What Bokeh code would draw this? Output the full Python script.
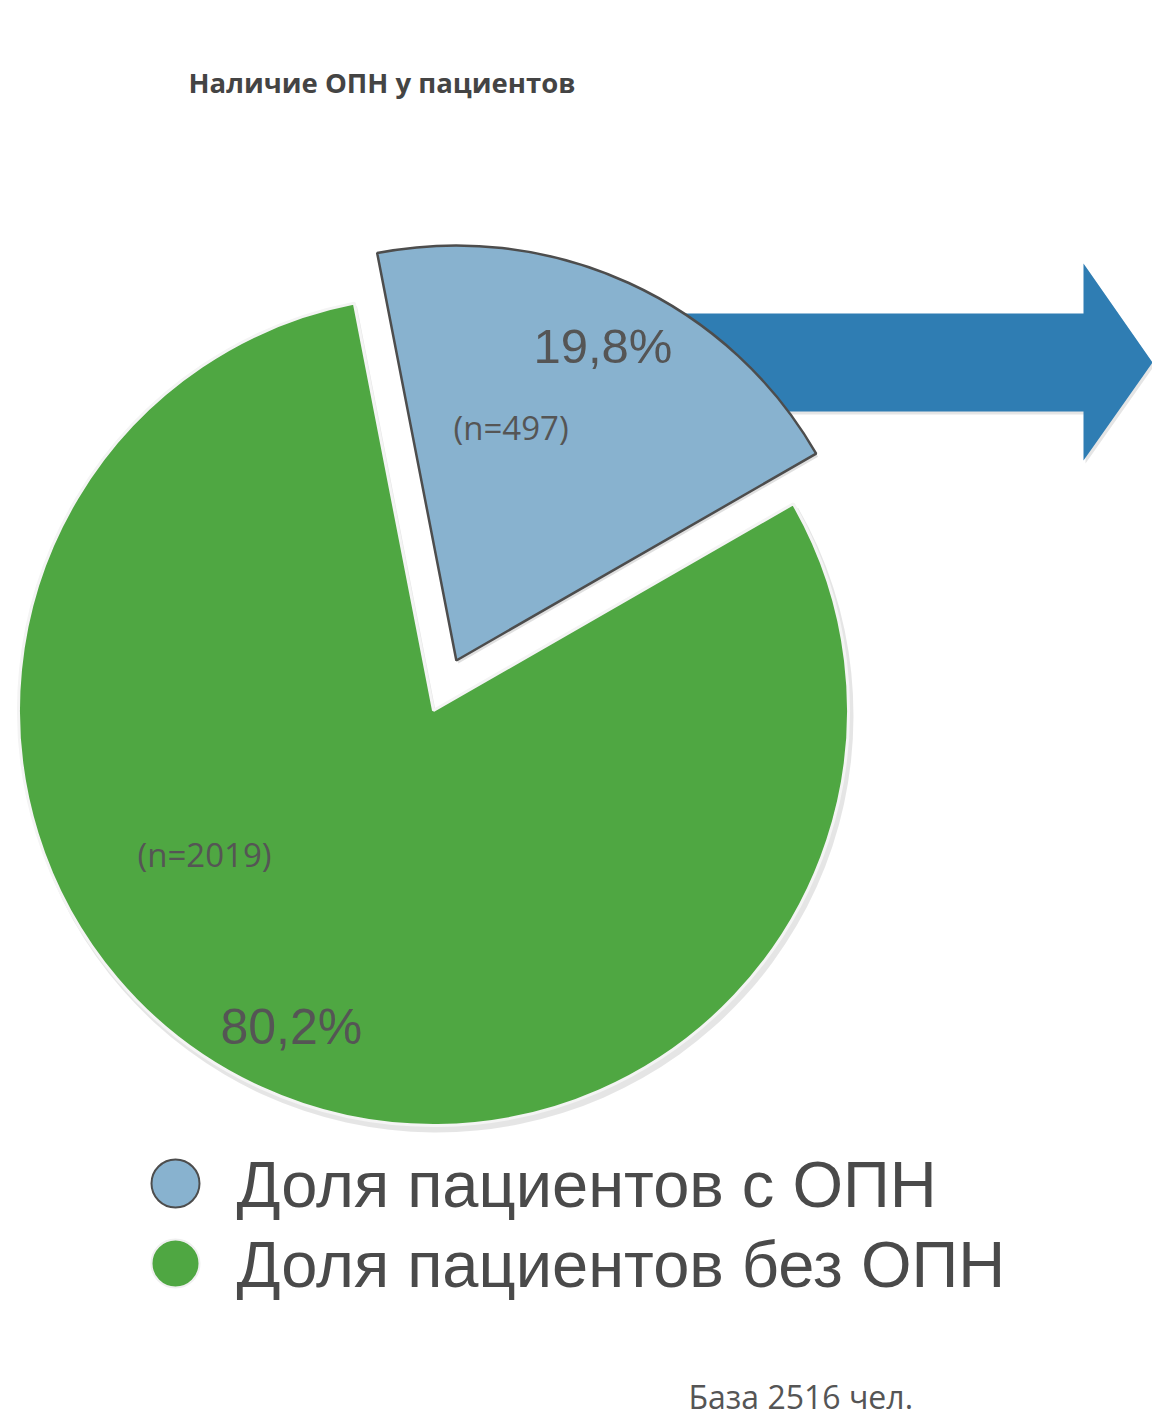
import numpy as np
from bokeh.plotting import figure
from bokeh.models import Range1d
from bokeh.core.properties import value
from bokeh.embed import file_html
from bokeh.resources import INLINE

# ---- data ----
categories = ["Доля пациентов с ОПН", "Доля пациентов без ОПН"]
counts = [497, 2019]
pct_labels = ["19,8%", "80,2%"]
n_labels = ["(n=497)", "(n=2019)"]
colors = ["#88b2cf", "#4fa742"]
title_text = "Наличие ОПН у пациентов"
base_text = "База 2516 чел."

W, H = 1152, 1417

def X(px):
    return px

def Y(py):
    return H - py

p = figure(width=W, height=H, output_backend="svg", toolbar_location=None,
           x_range=Range1d(0, W), y_range=Range1d(0, H), min_border=0)
p.axis.visible = False
p.grid.visible = False
p.outline_line_color = None
p.background_fill_color = "white"

# ---- arrow (behind pie) ----
shaft_x0, head_x, tip_x = 680, 1083, 1152
shaft_top, shaft_bot = 313, 411
head_top, head_bot = 263, 460
tip_y = 362
ax = [shaft_x0, head_x, head_x, tip_x, head_x, head_x, shaft_x0]
ay = [shaft_top, shaft_top, head_top, tip_y, head_bot, shaft_bot, shaft_bot]
p.patch([X(v) + 2 for v in ax], [Y(v) - 3 for v in ay], fill_color="#000000", fill_alpha=0.10, line_color=None)
p.patch([X(v) for v in ax], [Y(v) for v in ay], fill_color="#2f7db3", line_color=None)

# ---- pie ----
cx, cy, R = X(433), Y(710), 415
total = sum(counts)
fracs = np.array(counts) / total
start_deg = 101.0
angles = [0.0]
for f in fracs:
    angles.append(angles[-1] + f * 360)
b_end = np.radians(start_deg)
b_start = np.radians(start_deg - angles[1])
b_mid = (b_start + b_end) / 2
off = 55
bx, by = cx + off * np.cos(b_mid), cy + off * np.sin(b_mid)
g_start = b_end
g_end = b_start + 2 * np.pi

p.wedge(x=cx + 3, y=cy - 5, radius=R + 2, start_angle=g_start, end_angle=g_end,
        fill_color="#000000", fill_alpha=0.10, line_color=None)
p.wedge(x=cx, y=cy, radius=R, start_angle=g_start, end_angle=g_end,
        fill_color=colors[1], line_color="#f4f4f4", line_width=3)
p.wedge(x=bx + 2, y=by - 3, radius=R, start_angle=b_start, end_angle=b_end,
        fill_color="#000000", fill_alpha=0.12, line_color=None)
p.wedge(x=bx, y=by, radius=R, start_angle=b_start, end_angle=b_end,
        fill_color=colors[0], line_color="#4d4d4d", line_width=2.5)

# ---- labels ----
lab_col = "#555555"
p.text(x=[X(533)], y=[Y(345)], text=[pct_labels[0]], text_font=value("Liberation Sans"),
       text_font_size="49px", text_color=lab_col, text_baseline="alphabetic")
p.text(x=[X(220)], y=[Y(1026)], text=[pct_labels[1]], text_font=value("Liberation Sans"),
       text_font_size="50px", text_color=lab_col, text_baseline="alphabetic")
p.text(x=[X(453)], y=[Y(427)], text=[n_labels[0]], text_font=value("Open Sans"),
       text_font_size="33px", text_color=lab_col, text_baseline="alphabetic")
p.text(x=[X(137)], y=[Y(854)], text=[n_labels[1]], text_font=value("Open Sans"),
       text_font_size="33px", text_color=lab_col, text_baseline="alphabetic")

# ---- title ----
p.text(x=[X(188)], y=[Y(82)], text=[title_text], text_font=value("Open Sans"),
       text_font_size="27.5px", text_font_style="bold", text_color="#444444",
       text_baseline="alphabetic")

# ---- legend ----
leg_y = [1183, 1263]
leg_base = [1184, 1264]
line_cols = ["#4d4d4d", "#f0f0f0"]
for i in range(2):
    p.scatter(x=[X(175)], y=[Y(leg_y[i])], size=48, marker="circle",
              fill_color=colors[i], line_color=line_cols[i], line_width=2)
    p.text(x=[X(236)], y=[Y(leg_base[i])], text=[categories[i]], text_font=value("Liberation Sans"),
           text_font_size="65px", text_color="#4a4a4a", text_baseline="alphabetic")

# ---- base ----
p.text(x=[X(688)], y=[Y(1396)], text=[base_text], text_font=value("Open Sans"),
       text_font_size="32px", text_color="#555555", text_baseline="alphabetic")

open("out.html", "w").write(file_html(p, INLINE))
